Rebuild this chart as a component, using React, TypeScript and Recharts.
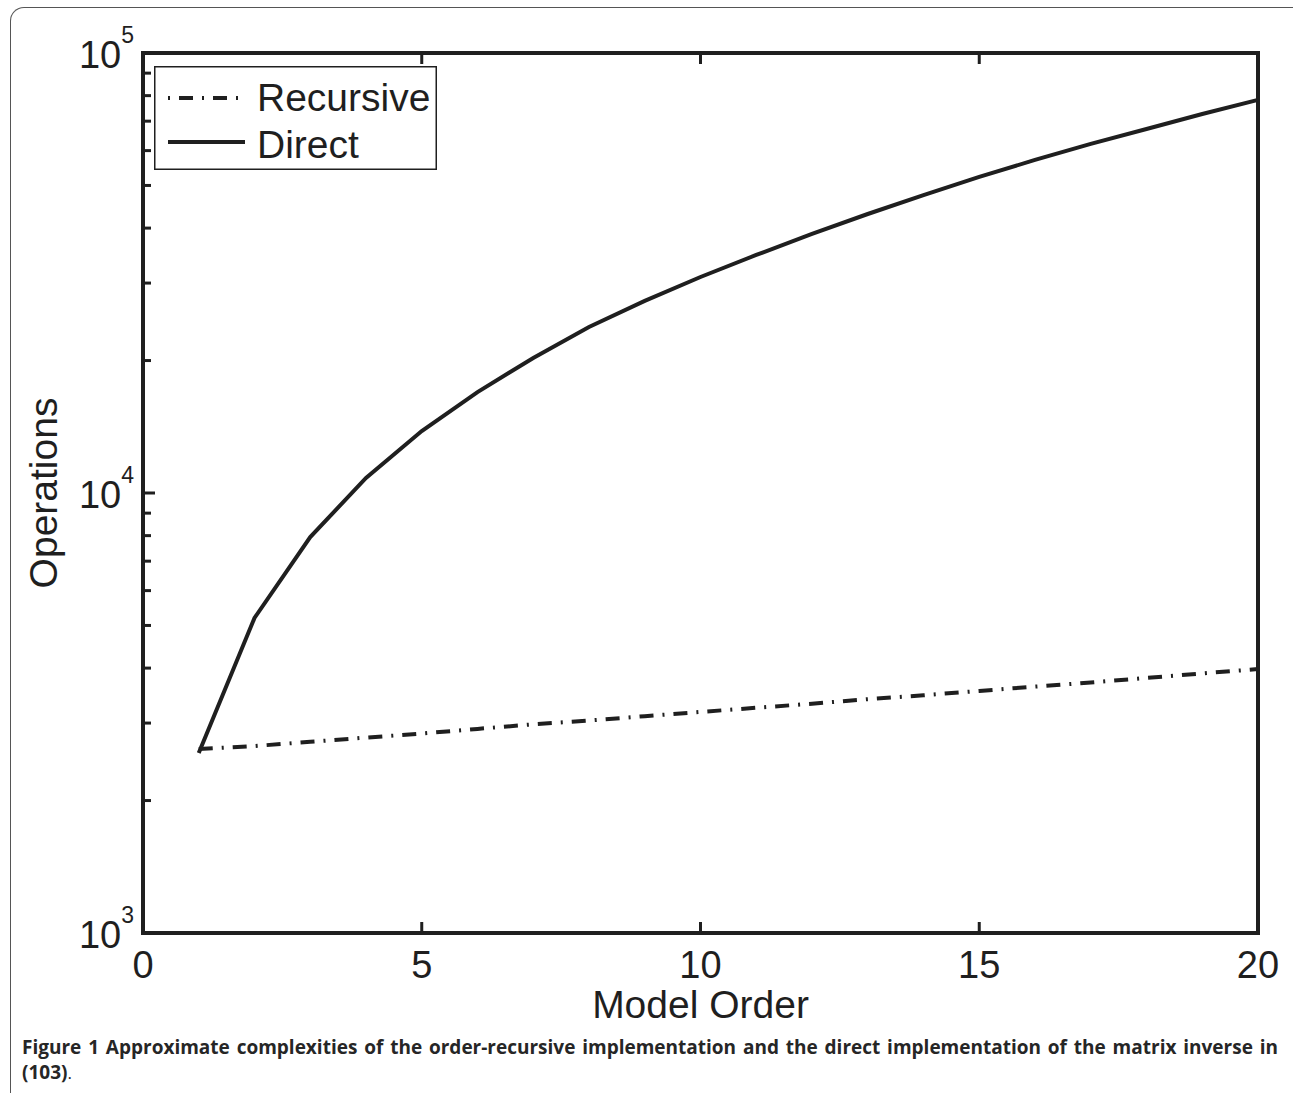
import { LineChart, Line, XAxis, YAxis, Legend } from 'recharts';

// model order on the x axis
const orders = [1, 2, 3, 4, 5, 6, 7, 8, 9, 10, 11, 12, 13, 14, 15, 16, 17, 18, 19, 20];
// operations
const recursiveOps = [2620, 2660, 2720, 2780, 2840, 2910, 2980, 3040, 3110, 3180, 3250, 3320, 3400, 3470, 3550, 3630, 3710, 3800, 3890, 3980];
const directOps = [2565, 5200, 7940, 10820, 13830, 16960, 20270, 23840, 27320, 30970, 34750, 38790, 43060, 47550, 52270, 57140, 62130, 67190, 72650, 78230];

const xTicks = [0, 5, 10, 15, 20];
const yTicks = [
	1000, 2000, 3000, 4000, 5000, 6000, 7000, 8000, 9000,
	10000, 20000, 30000, 40000, 50000, 60000, 70000, 80000, 90000, 100000,
];

const SERIES = [
	{ key: 'recursive', name: 'Recursive', dash: '14 9 2 9' },
	{ key: 'direct', name: 'Direct', dash: undefined as string | undefined },
];

const data = orders.map((n, i) => ({ n, recursive: recursiveOps[i], direct: directOps[i] }));

const INK = '#1f1f1f';
const FONT = '"Liberation Sans", Arial, Helvetica, sans-serif';
const axisLine = { stroke: INK, strokeWidth: 4, strokeLinecap: 'square' as const };

const isMajor = (v: number) => Math.abs(Math.log10(v) - Math.round(Math.log10(v))) < 1e-9;

const LeftTick = ({ x, y, payload }: any) => {
	const v = payload.value;
	const major = isMajor(v);
	return (
		<g>
			<line x1={x} x2={x + (major ? 12 : 8)} y1={y} y2={y} stroke={INK} strokeWidth={3} />
			{major && (
				<text x={x - 9} y={y + 15} textAnchor="end" fontSize={38} fontFamily={FONT} fill={INK}>
					10
					<tspan dy={-25} fontSize={23}>
						{Math.round(Math.log10(v))}
					</tspan>
				</text>
			)}
		</g>
	);
};

const RightTick = ({ x, y, payload }: any) => (
	<line x1={x} x2={x - (isMajor(payload.value) ? 12 : 8)} y1={y} y2={y} stroke={INK} strokeWidth={3} />
);

const BottomTick = ({ x, y, payload }: any) => (
	<g>
		<line x1={x} x2={x} y1={y} y2={y - 11} stroke={INK} strokeWidth={3} />
		<text x={x} y={y + 45} textAnchor="middle" fontSize={38} fontFamily={FONT} fill={INK}>
			{payload.value}
		</text>
	</g>
);

const TopTick = ({ x, y }: any) => <line x1={x} x2={x} y1={y} y2={y + 11} stroke={INK} strokeWidth={3} />;

const LegendBox = () => (
	<svg width={283} height={104} style={{ display: 'block' }}>
		<rect x={0.75} y={0.75} width={281.5} height={102.5} fill="#fff" stroke={INK} strokeWidth={1.5} />
		{SERIES.map((s, i) => (
			<g key={s.key}>
				<line
					x1={14}
					x2={91}
					y1={32 + i * 44}
					y2={32 + i * 44}
					stroke={INK}
					strokeWidth={4}
					strokeDasharray={s.dash ? '2 9 14 9' : undefined}
				/>
				<text x={103} y={45 + i * 47} fontSize={39} fontFamily={FONT} fill={INK}>
					{s.name}
				</text>
			</g>
		))}
	</svg>
);

export default function App() {
	return (
		<div style={{ position: 'absolute', left: 0, top: 0, width: 1293, height: 1093, overflow: 'hidden', background: '#fff' }}>
			<div
				style={{
					position: 'absolute',
					left: 10,
					top: 7,
					width: 1300,
					height: 1200,
					borderTop: '1.5px solid #555',
					borderLeft: '1.5px solid #555',
					borderRight: '1.5px solid #555',
					borderRadius: '14px 14px 0 0',
					boxSizing: 'border-box',
				}}
			/>
			<div style={{ position: 'absolute', left: 0, top: 0 }}>
				<LineChart width={1293} height={1040} data={data} margin={{ top: 48, right: 30, bottom: 17, left: 43 }}>
					<XAxis
						dataKey="n"
						type="number"
						domain={[0, 20]}
						ticks={xTicks}
						interval={0}
						height={90}
						tickSize={0}
						tickMargin={0}
						tickLine={false}
						axisLine={axisLine}
						tick={<BottomTick />}
						label={{
							content: ({ viewBox }: any) => (
								<text
									x={viewBox.x + viewBox.width / 2}
									y={viewBox.y + 85}
									textAnchor="middle"
									fontSize={39}
									fontFamily={FONT}
									fill={INK}
								>
									Model Order
								</text>
							),
						}}
					/>
					<XAxis
						xAxisId="top"
						orientation="top"
						dataKey="n"
						type="number"
						domain={[0, 20]}
						ticks={xTicks}
						interval={0}
						height={5}
						tickSize={0}
						tickMargin={0}
						tickLine={false}
						axisLine={axisLine}
						tick={<TopTick />}
					/>
					<YAxis
						scale="log"
						type="number"
						domain={[1000, 100000]}
						ticks={yTicks}
						interval={0}
						width={100}
						tickSize={0}
						tickMargin={0}
						tickLine={false}
						axisLine={axisLine}
						tick={<LeftTick />}
						label={{
							content: ({ viewBox }: any) => {
								const cx = 43;
								const cy = viewBox.y + viewBox.height / 2;
								return (
									<text
										x={cx}
										y={cy}
										transform={`rotate(-90 ${cx} ${cy})`}
										textAnchor="middle"
										dominantBaseline="central"
										fontSize={39}
										fontFamily={FONT}
										fill={INK}
									>
										Operations
									</text>
								);
							},
						}}
					/>
					<YAxis
						yAxisId="right"
						orientation="right"
						scale="log"
						type="number"
						domain={[1000, 100000]}
						ticks={yTicks}
						interval={0}
						width={5}
						tickSize={0}
						tickMargin={0}
						tickLine={false}
						axisLine={axisLine}
						tick={<RightTick />}
					/>
					<Legend
						layout="vertical"
						align="center"
						verticalAlign="middle"
						content={<LegendBox />}
						wrapperStyle={{ left: 154, top: 66, width: 283, height: 104 }}
					/>
					{SERIES.map((s) => (
						<Line
							key={s.key}
							dataKey={s.key}
							name={s.name}
							type="linear"
							stroke={INK}
							strokeWidth={4}
							strokeDasharray={s.dash}
							dot={false}
							activeDot={false}
							isAnimationActive={false}
						/>
					))}
				</LineChart>
			</div>
			<div
				style={{
					position: 'absolute',
					left: 22,
					top: 1035,
					width: 1256,
					fontFamily: '"Open Sans", "Noto Sans", sans-serif',
					fontSize: 19,
					lineHeight: '25px',
					color: '#262626',
				}}
			>
				<div style={{ textAlign: 'justify', textAlignLast: 'justify', fontWeight: 700 }}>
					Figure 1 Approximate complexities of the order-recursive implementation and the direct implementation of the matrix inverse in
				</div>
				<div style={{ fontSize: 17 }}>
					<b style={{ fontSize: 19 }}>(103)</b>.
				</div>
			</div>
		</div>
	);
}
